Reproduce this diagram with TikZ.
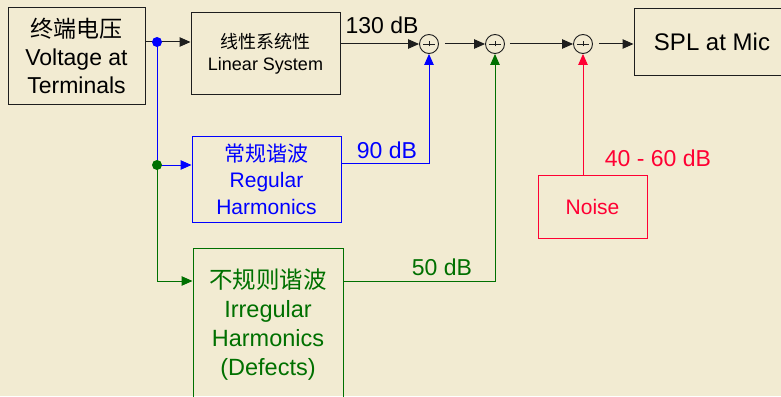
\documentclass[tikz,border=0pt]{standalone}
\usepackage{fontspec}
\setmainfont{Liberation Sans}
\newfontfamily\cjk{Noto Sans CJK SC}
\usetikzlibrary{arrows.meta}
\definecolor{bg}{RGB}{242,235,210}
\definecolor{cblue}{RGB}{0,0,255}
\definecolor{cgreen}{RGB}{0,112,0}
\definecolor{cred}{RGB}{255,0,51}
\definecolor{cline}{RGB}{30,30,30}
\begin{document}
\begin{tikzpicture}[x=1pt,y=-1pt, line width=1pt,
  box/.style={draw=cline, rectangle, align=center, inner sep=0pt},
  arr/.style={-{Triangle[length=11pt,width=9.5pt]}},
  sumj/.style={draw=cline, circle, minimum size=19pt, inner sep=0pt, line width=0.9pt},
  lbl/.style={font=\fontsize{23}{26}\selectfont, inner sep=0pt}]
\fill[bg] (0,0) rectangle (781,396);
\useasboundingbox (0,0) rectangle (781,396);

% blocks
\node[box, minimum width=137pt, minimum height=96pt, font=\fontsize{23}{28}\selectfont] (volt) at (76.5,56) {{\cjk 终端电压}\\Voltage at\\Terminals};
\node[box, minimum width=149pt, minimum height=81pt, font=\fontsize{18}{22}\selectfont] (lin) at (265.5,53.5) {{\cjk 线性系统性}\\Linear System};
\node[box, draw=cblue, text=cblue, minimum width=149pt, minimum height=86pt, font=\fontsize{21}{26.5}\selectfont] (reg) at (266.5,179) {{\cjk 常规谐波}\\Regular\\Harmonics};
\node[box, draw=cgreen, text=cgreen, minimum width=150pt, minimum height=154pt, font=\fontsize{23.5}{29}\selectfont] (irr) at (268,325) {{\cjk 不规则谐波}\\Irregular\\Harmonics\\(Defects)};
\node[box, minimum width=156pt, minimum height=66pt, font=\fontsize{24}{28}\selectfont] (spl) at (712,42) {SPL at Mic};
\node[box, draw=cred, text=cred, minimum width=109pt, minimum height=63pt, font=\fontsize{21}{25}\selectfont] (noise) at (592.5,206.5) {Noise};

% summing junctions
\node[sumj] (s1) at (429,44) {};
\node[sumj] (s2) at (495,44) {};
\node[sumj] (s3) at (583,44) {};
\foreach \s in {s1,s2,s3}{
  \draw[cline, line width=0.7pt] ([xshift=-6pt]\s.center) -- ([xshift=6pt]\s.center);
  \draw[cline, line width=0.7pt] ([yshift=-2.5pt]\s.center) -- ([yshift=2.5pt]\s.center);
}

% branch points
\coordinate (d1) at (157,42);
\coordinate (d2) at (157,165);
\coordinate (g1) at (157,281);
\coordinate (bc) at (429,163);
\coordinate (gc) at (495,281);

% connectors
\draw[cline, arr] (volt.east |- d1) -- (lin.west |- d1);
\draw[cblue] (d1) -- (d2);
\draw[cblue, arr] (d2) -- (reg.west |- d2);
\draw[cgreen, arr] (d2) -- (g1) -- (irr.west |- g1);
\fill[cblue] (d1) circle (5);
\fill[cgreen] (d2) circle (5);

\draw[cline, arr] (lin.east |- s1) -- (s1.west);
\draw[cline, arr] ([xshift=6pt]s1.east) -- (s2.west);
\draw[cline, arr] ([xshift=5pt]s2.east) -- (s3.west);
\draw[cline, arr] ([xshift=6pt]s3.east) -- (spl.west |- s3);

\draw[cblue, arr] (reg.east |- bc) -- (bc) -- (s1.south);
\draw[cgreen, arr] (irr.east |- gc) -- (gc) -- (s2.south);
\draw[cred, arr] (s3 |- noise.north) -- (s3.south);

% labels
\node[lbl] (l130) at (382,25) {130 dB};
\node[lbl, text=cblue] (l90) at (387,150) {90 dB};
\node[lbl, text=cgreen] (l50) at (442,267) {50 dB};
\node[lbl, text=cred] (l4060) at (658,158) {40 - 60 dB};
\end{tikzpicture}
\end{document}
